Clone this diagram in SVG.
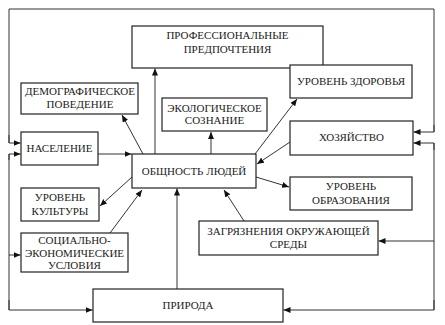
<svg xmlns="http://www.w3.org/2000/svg" width="445" height="325" viewBox="0 0 445 325">
<style>
.box{fill:#fff;stroke:#222;stroke-width:1.2}
.t{font-family:'Liberation Serif','Times New Roman','DejaVu Serif',serif;font-size:11px;fill:#222;text-anchor:middle}
.c{fill:none;stroke:#333;stroke-width:1;marker-end:url(#ah)}
.n{fill:none;stroke:#333;stroke-width:1}
</style>
<defs>
<marker id="ah" markerUnits="userSpaceOnUse" markerWidth="8" markerHeight="6" refX="7" refY="3" orient="auto">
<path d="M0,0 L7,3 L0,6 z" fill="#111"/>
</marker>
</defs>
<rect width="445" height="325" fill="#fff"/>
<g id="connectors">
<path class="n" d="M9,143 V9 H434 V132"/>
<path class="c" d="M9,135 V143 H20.5"/>
<path class="c" d="M434,125 V132 H413.5"/>
<path class="n" d="M434,143 V310"/>
<path class="c" d="M434,150 V143 H413.5"/>
<path class="c" d="M434,241 H378.5"/>
<path class="c" d="M434,300 V310 H283.5"/>
<path class="n" d="M9,154 V310"/>
<path class="c" d="M9,160 V154 H20.5"/>
<path class="c" d="M9,255 H20.5"/>
<path class="c" d="M9,300 V310 H92.5"/>
<path class="c" d="M155,154 V68.5"/>
<path class="c" d="M211,154 V132"/>
<path class="c" d="M98,154 H131.5"/>
<path class="c" d="M177,289 V188.5"/>
<path class="c" d="M143,154 L122,115"/>
<path class="c" d="M255,154 L297,99"/>
<path class="c" d="M290,142 L257,164"/>
<path class="c" d="M256,177 L289,187"/>
<path class="c" d="M132,177 L100,206"/>
<path class="c" d="M110,233 L142,190"/>
<path class="c" d="M244,221 L224,190"/>
</g>
<g id="prof"><rect class="box" x="132" y="26" width="191" height="42"/><text class="t" x="227.5" y="39">ПРОФЕССИОНАЛЬНЫЕ</text><text class="t" x="227.5" y="52.5">ПРЕДПОЧТЕНИЯ</text></g>
<g id="demo"><rect class="box" x="21" y="83" width="117" height="31"/><text class="t" x="80" y="94.5">ДЕМОГРАФИЧЕСКОЕ</text><text class="t" x="80" y="107.5">ПОВЕДЕНИЕ</text></g>
<g id="eco"><rect class="box" x="162" y="98" width="105" height="33"/><text class="t" x="214.5" y="111.5">ЭКОЛОГИЧЕСКОЕ</text><text class="t" x="214.5" y="124">СОЗНАНИЕ</text></g>
<g id="nasel"><rect class="box" x="21" y="132" width="77" height="33"/><text class="t" x="59.5" y="152">НАСЕЛЕНИЕ</text></g>
<g id="obsh"><rect class="box" x="132" y="154" width="124" height="34"/><text class="t" x="194" y="175">ОБЩНОСТЬ ЛЮДЕЙ</text></g>
<g id="zdor"><rect class="box" x="290" y="65" width="122" height="33"/><text class="t" x="351" y="85">УРОВЕНЬ ЗДОРОВЬЯ</text></g>
<g id="hoz"><rect class="box" x="290" y="121" width="123" height="34"/><text class="t" x="351.5" y="141">ХОЗЯЙСТВО</text></g>
<g id="kult"><rect class="box" x="21" y="188" width="78" height="33"/><text class="t" x="60" y="201">УРОВЕНЬ</text><text class="t" x="60" y="215">КУЛЬТУРЫ</text></g>
<g id="soc"><rect class="box" x="21" y="233" width="107" height="39"/><text class="t" x="74.5" y="244">СОЦИАЛЬНО-</text><text class="t" x="74.5" y="256.5">ЭКОНОМИЧЕСКИЕ</text><text class="t" x="74.5" y="269">УСЛОВИЯ</text></g>
<g id="obraz"><rect class="box" x="290" y="177" width="122" height="33"/><text class="t" x="351" y="190">УРОВЕНЬ</text><text class="t" x="351" y="204">ОБРАЗОВАНИЯ</text></g>
<g id="zagr"><rect class="box" x="199" y="221" width="179" height="34"/><text class="t" x="288.5" y="235">ЗАГРЯЗНЕНИЯ ОКРУЖАЮЩЕЙ</text><text class="t" x="288.5" y="247.5">СРЕДЫ</text></g>
<g id="prir"><rect class="box" x="93" y="289" width="190" height="33"/><text class="t" x="188" y="309">ПРИРОДА</text></g>
</svg>
